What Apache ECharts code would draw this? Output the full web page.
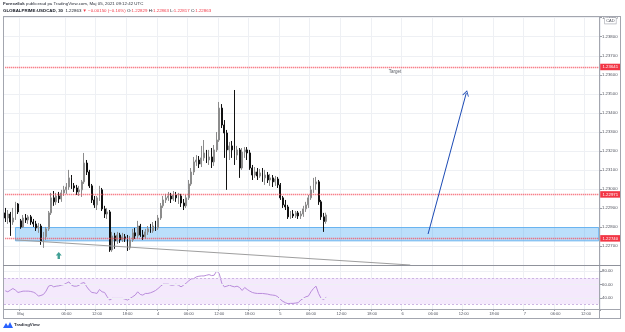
<!DOCTYPE html>
<html><head><meta charset="utf-8">
<script src="https://cdn.jsdelivr.net/npm/echarts@6/dist/echarts.min.js"></script>
<style>html,body{margin:0;padding:0;background:#fff}#c{width:625px;height:332px}</style>
</head><body><div id="c"></div>
<script>
// ---- data ----
const slotCount = 234; // 30-minute slots on the time scale (incl. empty future)
const timeTickIdx = [6,24,36,48,60,72,84,96,108,120,132,144,156,168,180,192,204,216,228];
const timeLabels = ['Maj','06:00','12:00','18:00','4','06:00','12:00','18:00','5','06:00','12:00','18:00','6','06:00','12:00','18:00','7','06:00','12:00'];
// [open, close, low, high]
const candles = [
[1.22874,1.22847,1.22826,1.22900],[1.22847,1.22868,1.22816,1.22889],[1.22868,1.22826,1.22753,1.22879],[1.22826,1.22847,1.22811,1.22900],
[1.22847,1.22921,1.22837,1.22932],[1.22921,1.22879,1.22868,1.22926],[1.22832,1.22800,1.22790,1.22842],[1.22800,1.22847,1.22795,1.22863],
[1.22847,1.22837,1.22821,1.22868],[1.22837,1.22853,1.22816,1.22863],[1.22853,1.22826,1.22811,1.22863],[1.22826,1.22816,1.22800,1.22842],
[1.22816,1.22795,1.22779,1.22832],[1.22795,1.22805,1.22769,1.22821],[1.22805,1.22727,1.22706,1.22816],[1.22727,1.22748,1.22690,1.22774],
[1.22748,1.22790,1.22732,1.22800],[1.22790,1.22874,1.22779,1.22884],[1.22874,1.22953,1.22863,1.22979],[1.22953,1.22932,1.22911,1.22989],
[1.22932,1.22963,1.22916,1.22979],[1.22963,1.22947,1.22926,1.22984],[1.22947,1.22979,1.22932,1.22995],[1.22979,1.22995,1.22963,1.23016],
[1.22995,1.23010,1.22974,1.23031],[1.23010,1.23058,1.22995,1.23100],[1.23058,1.23016,1.23000,1.23073],[1.23016,1.23005,1.22984,1.23031],
[1.23005,1.22984,1.22968,1.23021],[1.22984,1.22995,1.22963,1.23016],[1.22995,1.23037,1.22958,1.23047],[1.23037,1.23136,1.23026,1.23189],
[1.23136,1.23089,1.23073,1.23152],[1.23089,1.23016,1.23005,1.23100],[1.23016,1.22942,1.22926,1.23026],[1.22942,1.22916,1.22900,1.22963],
[1.22916,1.22953,1.22889,1.22963],[1.22953,1.22995,1.22937,1.23016],[1.22995,1.22895,1.22884,1.23005],[1.22895,1.22868,1.22847,1.22911],
[1.22868,1.22879,1.22842,1.22900],[1.22879,1.22679,1.22669,1.22889],[1.22679,1.22753,1.22669,1.22774],[1.22753,1.22727,1.22685,1.22769],
[1.22727,1.22758,1.22711,1.22774],[1.22758,1.22732,1.22716,1.22769],[1.22732,1.22748,1.22721,1.22769],[1.22748,1.22737,1.22721,1.22763],
[1.22737,1.22690,1.22674,1.22758],[1.22690,1.22732,1.22679,1.22753],[1.22732,1.22769,1.22721,1.22790],[1.22769,1.22753,1.22737,1.22795],
[1.22753,1.22805,1.22742,1.22832],[1.22805,1.22758,1.22748,1.22816],[1.22758,1.22748,1.22732,1.22784],[1.22748,1.22774,1.22737,1.22790],
[1.22774,1.22790,1.22758,1.22805],[1.22790,1.22779,1.22769,1.22816],[1.22779,1.22805,1.22769,1.22826],[1.22805,1.22795,1.22779,1.22832],
[1.22795,1.22847,1.22784,1.22863],[1.22847,1.22911,1.22837,1.22926],[1.22911,1.22942,1.22900,1.22963],[1.22942,1.22953,1.22926,1.22974],
[1.22953,1.22963,1.22937,1.22984],[1.22963,1.22947,1.22926,1.22979],[1.22947,1.22968,1.22937,1.22989],[1.22968,1.22953,1.22932,1.22984],
[1.22953,1.22963,1.22921,1.22979],[1.22963,1.22926,1.22905,1.22974],[1.22926,1.22911,1.22889,1.22947],[1.22911,1.22953,1.22900,1.22968],
[1.22953,1.23026,1.22942,1.23047],[1.23026,1.23089,1.23016,1.23110],[1.23089,1.23142,1.23073,1.23168],[1.23142,1.23152,1.23121,1.23178],
[1.23152,1.23131,1.23110,1.23173],[1.23131,1.23163,1.23115,1.23226],[1.23163,1.23189,1.23147,1.23257],[1.23189,1.23152,1.23136,1.23205],
[1.23152,1.23168,1.23126,1.23205],[1.23168,1.23142,1.23110,1.23215],[1.23142,1.23205,1.23121,1.23231],[1.23205,1.23257,1.23194,1.23299],
[1.23257,1.23425,1.23247,1.23457],[1.23425,1.23336,1.23320,1.23446],[1.23336,1.23294,1.23163,1.23362],[1.23294,1.23205,1.22995,1.23310],
[1.23205,1.23226,1.23152,1.23247],[1.23226,1.23205,1.23163,1.23252],[1.23205,1.23178,1.23126,1.23520],[1.23178,1.23205,1.23152,1.23226],
[1.23205,1.23110,1.23058,1.23215],[1.23110,1.23194,1.23100,1.23215],[1.23194,1.23205,1.23163,1.23220],[1.23205,1.23189,1.23152,1.23220],
[1.23189,1.23110,1.23100,1.23205],[1.23110,1.23073,1.23047,1.23126],[1.23073,1.23089,1.23058,1.23115],[1.23089,1.23068,1.23047,1.23110],
[1.23068,1.23084,1.23058,1.23105],[1.23084,1.23058,1.23037,1.23110],[1.23058,1.23073,1.23021,1.23100],[1.23073,1.23047,1.23031,1.23089],
[1.23047,1.23058,1.23016,1.23079],[1.23058,1.23037,1.23010,1.23073],[1.23037,1.23052,1.23016,1.23068],[1.23052,1.23021,1.23005,1.23063],
[1.23021,1.22953,1.22942,1.23031],[1.22953,1.22916,1.22900,1.22963],[1.22916,1.22905,1.22889,1.22942],[1.22905,1.22853,1.22842,1.22916],
[1.22853,1.22868,1.22842,1.22884],[1.22868,1.22858,1.22847,1.22889],[1.22858,1.22874,1.22847,1.22884],[1.22874,1.22858,1.22842,1.22884],
[1.22858,1.22868,1.22842,1.22884],[1.22868,1.22895,1.22853,1.22911],[1.22895,1.22916,1.22879,1.22932],[1.22916,1.22953,1.22900,1.22968],
[1.22953,1.22995,1.22942,1.23016],[1.22995,1.23026,1.22979,1.23058],[1.23026,1.23037,1.22995,1.23063],[1.23037,1.22932,1.22916,1.23047],
[1.22932,1.22853,1.22837,1.22942],[1.22853,1.22829,1.22774,1.22874],[1.22829,1.22863,1.22817,1.22875]
];
const rsi = [
50.5,49,51.5,54,51.5,48,49,50,50,50,49.5,48.5,46.5,42.5,43.5,45,50,57.5,59,56.5,
57.5,58,59,60,62,64,59,57.5,57.5,59,62,63,56.5,51.5,48,47.5,46.5,52.5,49,48,
41.5,36.5,39,39,39,39,39,38,36.5,39,41.5,44,49,45,44,46.5,46.5,47.5,49,51,
54,57.5,60.5,60.5,60.5,59,59,60.5,59,56.5,59,62,65.5,68.5,69,71.5,72.5,73,73,74,
75,73.5,74,80.5,76.5,62,56.5,57.5,59,57.5,56.5,57.5,55.5,51,55.5,52.5,50,48,47,46.5,
46.5,46.5,46,45.5,44.5,44,43.5,41.5,37.5,34.5,32.5,31,31.5,31.5,32,32.5,36.5,39,41.5,42.5,
49,54,57.5,46.5,39,37.5,40.5
];
const levels = [1.23641, 1.22971, 1.22740];
const lastPrice = 1.22863;
const lastCountdown = '17:19';
const zone = [1.22797, 1.22727];       // top, bottom of demand zone
const zoneStart = 4;
const trendLine = [[4, 1.22732], [159, 1.22600]];
const forecastArrow = [[166, 1.22763], [181, 1.23504]];
const signalArrow = [[21, 1.22650]];
const targetNote = [[153, 1.23615]];
const priceRange = [1.22600, 1.23909];
const priceStep = 0.001;
const rsiRange = [23, 88];
const rsiBand = [30, 70];
const rsiTicks = [40, 60, 80];

// ---- chart ----
const FONT = '"Liberation Sans", Arial, sans-serif';
const RED = '#f23645';
const tickMap = {};
timeTickIdx.forEach((k, j) => { tickMap[k] = timeLabels[j]; });
const isTick = (idx) => tickMap[idx] !== undefined;
const slots = Array.from({length: slotCount}, (_, i) => String(i));
const gridCol = '#eef0f4';
const frameCol = '#a3a6af';
const lastSlot = slotCount - 1;

const levelLines = levels.map((v) => [
  {coord: [0, v], symbol: 'none',
   lineStyle: {color: '#f5515f', type: [1, 1], width: 1.3, opacity: 1},
   label: {show: true, position: 'end', distance: 1.5, formatter: v.toFixed(5),
           backgroundColor: RED, color: '#ffffff', fontSize: 4.3, padding: [1.5, 2.3, 1, 2.3], fontFamily: FONT}},
  {coord: [lastSlot, v], symbol: 'none'}
]);

const chart = echarts.init(document.getElementById('c'), null, {renderer: 'canvas'});
const option = {
  animation: false,
  backgroundColor: '#ffffff',
  textStyle: {fontFamily: FONT},
  grid: [
    {left: 4, right: 25, top: 16, height: 249},
    {left: 4, right: 25, top: 266, height: 43}
  ],
  xAxis: [
    {type: 'category', gridIndex: 0, data: slots, boundaryGap: true,
     axisLine: {show: false}, axisTick: {show: false}, axisLabel: {show: false},
     splitLine: {show: true, interval: (i) => isTick(i), lineStyle: {color: gridCol, width: 1}}},
    {type: 'category', gridIndex: 1, data: slots, boundaryGap: true,
     axisLine: {show: false},
     axisTick: {show: true, interval: (i) => isTick(i), length: 2, lineStyle: {color: '#9a9da5'}},
     axisLabel: {show: true, interval: (i) => isTick(i), formatter: (v, i) => tickMap[i] || '',
                 fontSize: 4, color: '#50535e', margin: 3, fontFamily: FONT},
     splitLine: {show: true, interval: (i) => isTick(i), lineStyle: {color: gridCol, width: 1}}}
  ],
  yAxis: [
    {type: 'value', gridIndex: 0, position: 'right', min: priceRange[0], max: priceRange[1], interval: priceStep,
     axisLine: {show: false},
     axisTick: {show: true, length: 2, lineStyle: {color: '#9a9da5'}},
     axisLabel: {fontSize: 4.3, color: '#50535e', margin: 2, fontFamily: FONT,
                 showMinLabel: false, showMaxLabel: false, formatter: (v) => v.toFixed(5)},
     splitLine: {show: true, lineStyle: {color: gridCol, width: 1}}},
    {type: 'value', gridIndex: 1, position: 'right', min: rsiRange[0], max: rsiRange[1],
     axisLine: {show: false},
     axisTick: {show: true, length: 2, customValues: rsiTicks, lineStyle: {color: '#9a9da5'}},
     axisLabel: {fontSize: 4.3, color: '#50535e', margin: 2, fontFamily: FONT, customValues: rsiTicks,
                 formatter: (v) => Number(v).toFixed(2)},
     splitLine: {show: false}}
  ],
  series: [
    {
      type: 'candlestick', xAxisIndex: 0, yAxisIndex: 0, data: candles, barWidth: 1.4,
      itemStyle: {color: '#eeeeee', color0: '#000000', borderColor: '#8c8c8c', borderColor0: '#111111', borderWidth: 1},
      markArea: {
        silent: true,
        itemStyle: {color: 'rgba(66,165,245,0.36)', borderColor: '#6ab4f0', borderWidth: 1},
        data: [[{xAxis: zoneStart, yAxis: zone[0]}, {xAxis: lastSlot, yAxis: zone[1]}]]
      },
      markLine: {
        silent: true, symbol: ['none', 'none'], animation: false,
        lineStyle: {color: '#f5515f', type: [1, 1], width: 1.3, opacity: 1},
        data: levelLines.concat([
          [{coord: [0, lastPrice], symbol: 'none', lineStyle: {opacity: 0},
            label: {show: true, position: 'end', distance: 3, fontFamily: FONT,
                    formatter: '{a|' + lastPrice.toFixed(5) + '}\n{b|' + lastCountdown + '}',
                    rich: {a: {fontSize: 4.3, color: '#131722', lineHeight: 5}, b: {fontSize: 4, color: '#50535e', lineHeight: 5}}}},
           {coord: [lastSlot, lastPrice], symbol: 'none'}],
          [{coord: trendLine[0], symbol: 'none', lineStyle: {color: '#9e9e9e', width: 1, type: 'solid'}, label: {show: false}},
           {coord: trendLine[1], symbol: 'none'}],
          [{coord: forecastArrow[0], symbol: 'none', lineStyle: {color: '#1c4bb5', width: 1, type: 'solid'}, label: {show: false}},
           {coord: forecastArrow[1], symbol: 'path://M0,10 L5,0 L10,10 L8.6,10 L5,2.6 L1.4,10 Z', symbolSize: [7, 6]}]
        ])
      }
    },
    {
      type: 'scatter', xAxisIndex: 0, yAxisIndex: 0, data: signalArrow,
      symbol: 'path://M5,0 L10,5 L7,5 L7,10 L3,10 L3,5 L0,5 Z', symbolSize: [6, 7],
      itemStyle: {color: '#12887a'}, silent: true
    },
    {
      type: 'scatter', xAxisIndex: 0, yAxisIndex: 0, data: targetNote,
      symbolSize: 1, itemStyle: {color: 'rgba(0,0,0,0)'}, silent: true,
      label: {show: true, position: 'inside', formatter: 'Target', fontSize: 4.5, color: '#2a2e39', fontFamily: FONT}
    },
    {
      type: 'line', xAxisIndex: 1, yAxisIndex: 1, data: rsi, symbol: 'none', silent: true,
      lineStyle: {color: '#b98ddb', width: 1},
      markArea: {silent: true, itemStyle: {color: '#f4e9fc'}, data: [[{yAxis: rsiBand[0]}, {yAxis: rsiBand[1]}]]},
      markLine: {
        silent: true, symbol: ['none', 'none'], label: {show: false},
        data: rsiBand.map((v) => ({yAxis: v, lineStyle: {color: '#cdb6e3', type: [2, 2], width: 1}}))
          .concat(rsiTicks.map((v) => ({yAxis: v, lineStyle: {color: gridCol, type: 'solid', width: 1}})))
      }
    }
  ],
  graphic: [
    {type: 'text', x: 3, y: 1.5, style: {text: '{b|Forexzilok} publicerad på TradingView.com, Maj 05, 2021 09:12:42 UTC',
      fill: '#2a2e39', font: '4.4px ' + FONT,
      rich: {b: {fontWeight: 'bold', fontSize: 4.4, fill: '#2a2e39'}}}},
    {type: 'text', x: 3, y: 8.5, style: {
      text: '{b|GLOBALPRIME:USDCAD, 30}  {n|1.22863} {r|▼ −0.00150 (−0.16%)} {n|O:}{r|1.22829} {n|H:}{r|1.22863} {n|L:}{r|1.22817} {n|C:}{r|1.22863}',
      font: '4.4px ' + FONT,
      rich: {b: {fontWeight: 'bold', fontSize: 4.4, fill: '#131722'}, n: {fontSize: 4.4, fill: '#131722'}, r: {fontSize: 4.4, fill: RED}}}},
    // frame
    {type: 'line', shape: {x1: 3, y1: 16.5, x2: 621, y2: 16.5}, style: {stroke: frameCol, lineWidth: 1}, z: 100},
    {type: 'line', shape: {x1: 3.5, y1: 16, x2: 3.5, y2: 319}, style: {stroke: frameCol, lineWidth: 1}, z: 100},
    {type: 'line', shape: {x1: 620.5, y1: 16, x2: 620.5, y2: 319}, style: {stroke: frameCol, lineWidth: 1}, z: 100},
    {type: 'line', shape: {x1: 3, y1: 318.5, x2: 621, y2: 318.5}, style: {stroke: frameCol, lineWidth: 1}, z: 100},
    {type: 'line', shape: {x1: 599.5, y1: 16, x2: 599.5, y2: 319}, style: {stroke: frameCol, lineWidth: 1}, z: 100},
    {type: 'line', shape: {x1: 3, y1: 265.5, x2: 621, y2: 265.5}, style: {stroke: '#8f929b', lineWidth: 1}, z: 100},
    {type: 'line', shape: {x1: 3, y1: 309.5, x2: 621, y2: 309.5}, style: {stroke: frameCol, lineWidth: 1}, z: 100},
    // currency tag
    {type: 'text', x: 605, y: 18, z: 101, style: {text: 'CAD', font: '4px ' + FONT, fill: '#50535e',
      backgroundColor: '#ffffff', borderColor: '#a3a6af', borderWidth: 0.6, padding: [0.8, 1.2]}},
    // TradingView footer
    {type: 'polygon', shape: {points: [[3,328],[6,323],[8,326],[10,322],[13,328]]}, style: {fill: '#2962ff'}, z: 101},
    {type: 'text', x: 14, y: 322.5, style: {text: 'TradingView', font: 'bold 4.4px ' + FONT, fill: '#2a2e39'}}
  ]
};
chart.setOption(option);
</script>
</body></html>
